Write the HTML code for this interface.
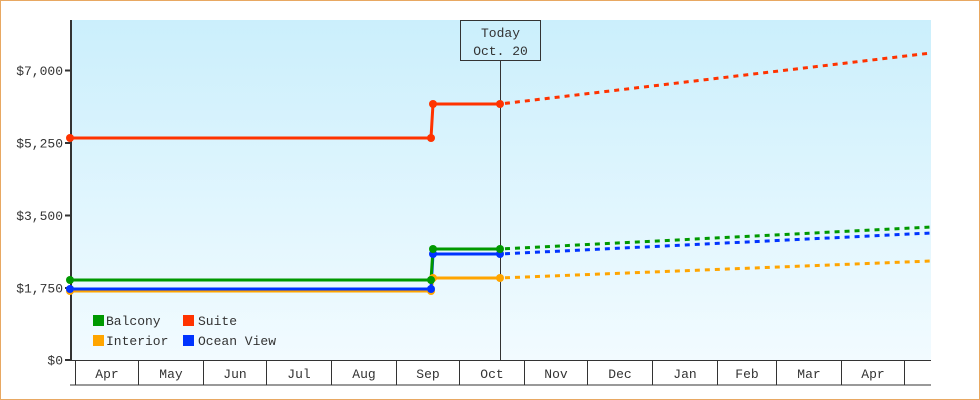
<!DOCTYPE html>
<html><head><meta charset="utf-8"><style>
html,body{margin:0;padding:0;background:#fff;}
svg{display:block;}
text{font-family:"Liberation Mono",monospace;font-size:13px;fill:#333;}
</style></head><body>
<svg width="980" height="400" viewBox="0 0 980 400" xmlns="http://www.w3.org/2000/svg">
<defs>
<linearGradient id="bg" x1="0" y1="0" x2="0" y2="1">
<stop offset="0" stop-color="#cbeffc"/>
<stop offset="1" stop-color="#f2fbff"/>
</linearGradient>
</defs>
<rect x="0.5" y="0.5" width="979" height="399" fill="#fff" stroke="#e8a862" stroke-width="1"/>
<rect x="71" y="20" width="860" height="340" fill="url(#bg)"/>

<!-- today line & box -->
<line x1="500.5" y1="60" x2="500.5" y2="360" stroke="#333" stroke-width="1"/>
<rect x="460.5" y="20.5" width="80" height="40" fill="none" stroke="#333" stroke-width="1"/>
<text x="500.5" y="37" text-anchor="middle">Today</text>
<text x="500.5" y="55" text-anchor="middle">Oct. 20</text>

<!-- y axis -->
<rect x="70" y="20" width="2" height="341" fill="#333"/>
<g stroke="#333" stroke-width="2">
<line x1="65" y1="70.5" x2="71" y2="70.5"/>
<line x1="65" y1="143" x2="71" y2="143"/>
<line x1="65" y1="215.5" x2="71" y2="215.5"/>
<line x1="65" y1="288" x2="71" y2="288"/>
<line x1="65" y1="360" x2="71" y2="360"/>
</g>
<g text-anchor="end">
<text x="63" y="75">$7,000</text>
<text x="63" y="147.5">$5,250</text>
<text x="63" y="220">$3,500</text>
<text x="63" y="292.5">$1,750</text>
<text x="63" y="364.5">$0</text>
</g>

<!-- x axis band -->
<line x1="70" y1="360.5" x2="931" y2="360.5" stroke="#333" stroke-width="1"/>
<line x1="70" y1="385" x2="931" y2="385" stroke="#333" stroke-width="1"/>
<g stroke="#333" stroke-width="1">
<line x1="75.5" y1="360" x2="75.5" y2="385"/>
<line x1="138.5" y1="360" x2="138.5" y2="385"/>
<line x1="203.5" y1="360" x2="203.5" y2="385"/>
<line x1="266.5" y1="360" x2="266.5" y2="385"/>
<line x1="331.5" y1="360" x2="331.5" y2="385"/>
<line x1="396.5" y1="360" x2="396.5" y2="385"/>
<line x1="459.5" y1="360" x2="459.5" y2="385"/>
<line x1="524.5" y1="360" x2="524.5" y2="385"/>
<line x1="587.5" y1="360" x2="587.5" y2="385"/>
<line x1="652.5" y1="360" x2="652.5" y2="385"/>
<line x1="717.5" y1="360" x2="717.5" y2="385"/>
<line x1="776.5" y1="360" x2="776.5" y2="385"/>
<line x1="841.5" y1="360" x2="841.5" y2="385"/>
<line x1="904.5" y1="360" x2="904.5" y2="385"/>
</g>
<g text-anchor="middle">
<text x="107" y="378">Apr</text>
<text x="171" y="378">May</text>
<text x="235" y="378">Jun</text>
<text x="299" y="378">Jul</text>
<text x="364" y="378">Aug</text>
<text x="428" y="378">Sep</text>
<text x="492" y="378">Oct</text>
<text x="556" y="378">Nov</text>
<text x="620" y="378">Dec</text>
<text x="685" y="378">Jan</text>
<text x="747" y="378">Feb</text>
<text x="809" y="378">Mar</text>
<text x="873" y="378">Apr</text>
</g>

<!-- series -->
<g fill="none" stroke-width="3" stroke-linejoin="round">
<!-- Interior -->
<polyline points="70,291 431,291 433,278 500,278" stroke="#ffa500"/>
<line x1="500" y1="278" x2="931" y2="261" stroke="#ffa500" stroke-dasharray="5 5" stroke-dashoffset="-5"/>
<!-- Ocean View -->
<polyline points="70,289 431,289 433,254 500,254" stroke="#0033ff"/>
<line x1="500" y1="254" x2="931" y2="233" stroke="#0033ff" stroke-dasharray="5 5" stroke-dashoffset="-5"/>
<!-- Suite -->
<polyline points="70,138 431,138 433,104 500,104" stroke="#ff3300"/>
<line x1="500" y1="104" x2="931" y2="53" stroke="#ff3300" stroke-dasharray="5 5" stroke-dashoffset="-5"/>
<!-- Balcony -->
<polyline points="70,280 431,280 433,249 500,249" stroke="#009900"/>
<line x1="500" y1="249" x2="931" y2="227" stroke="#009900" stroke-dasharray="5 5" stroke-dashoffset="-5"/>
</g>
<g>
<g fill="#ffa500"><circle cx="70" cy="291" r="4"/><circle cx="431" cy="291" r="4"/><circle cx="433" cy="278" r="4"/><circle cx="500" cy="278" r="4"/></g>
<g fill="#0033ff"><circle cx="70" cy="289" r="4"/><circle cx="431" cy="289" r="4"/><circle cx="433" cy="254" r="4"/><circle cx="500" cy="254" r="4"/></g>
<g fill="#ff3300"><circle cx="70" cy="138" r="4"/><circle cx="431" cy="138" r="4"/><circle cx="433" cy="104" r="4"/><circle cx="500" cy="104" r="4"/></g>
<g fill="#009900"><circle cx="70" cy="280" r="4"/><circle cx="431" cy="280" r="4"/><circle cx="433" cy="249" r="4"/><circle cx="500" cy="249" r="4"/></g>
</g>

<!-- legend -->
<rect x="93" y="315" width="11" height="11" fill="#009900"/>
<text x="106" y="325">Balcony</text>
<rect x="183" y="315" width="11" height="11" fill="#ff3300"/>
<text x="198" y="325">Suite</text>
<rect x="93" y="335" width="11" height="11" fill="#ffa500"/>
<text x="106" y="345">Interior</text>
<rect x="183" y="335" width="11" height="11" fill="#0033ff"/>
<text x="198" y="345">Ocean View</text>
</svg>
</body></html>
